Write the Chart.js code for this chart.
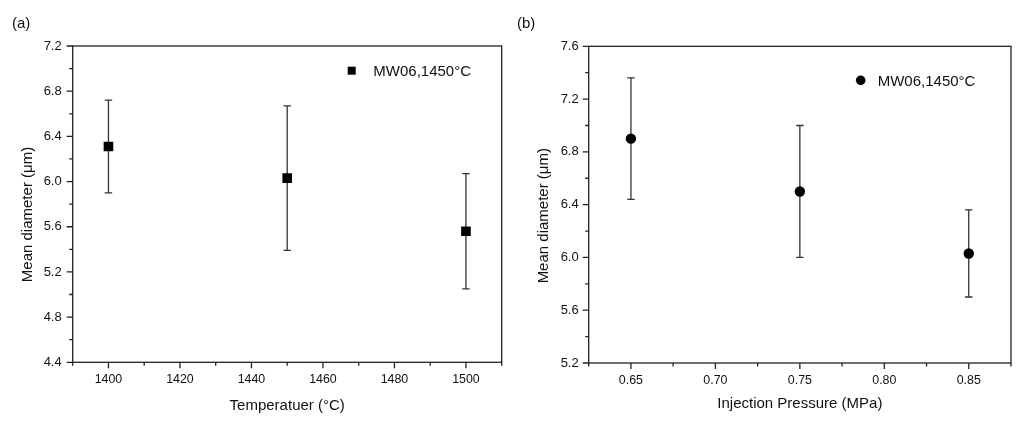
<!DOCTYPE html>
<html>
<head>
<meta charset="utf-8">
<script src="https://cdn.jsdelivr.net/npm/chart.js@4.4.1/dist/chart.umd.min.js"></script>
<style>
  body { margin: 0; background: #fff; }
  .panel { position: absolute; top: 0; width: 512px; height: 425px; }
  .tag { position: absolute; top: 14px; font: 15px 'Liberation Sans', Arial, sans-serif; color: #111; }
</style>
</head>
<body>
<div class="panel" style="left:0"><canvas id="chart_temp"></canvas></div>
<div class="panel" style="left:512px"><canvas id="chart_press"></canvas></div>
<div class="tag" style="left:12px">(a)</div>
<div class="tag" style="left:517px">(b)</div>
<script>
// panel (a): temperature
const tempX = [1400, 1450, 1500];
const tempMean = [6.31, 6.03, 5.56];
const tempUpper = [6.72, 6.67, 6.07];
const tempLower = [5.90, 5.39, 5.05];

// panel (b): injection pressure
const pressX = [0.65, 0.75, 0.85];
const pressMean = [6.90, 6.50, 6.03];
const pressUpper = [7.36, 7.00, 6.36];
const pressLower = [6.44, 6.00, 5.70];

const seriesLabel = 'MW06,1450°C';
const yTitle = 'Mean diameter (μm)';

const ink = '#111';
const family = "'Liberation Sans', Arial, sans-serif";
Chart.defaults.font.family = family;
Chart.defaults.color = ink;

// error bars, box frame, long/short ticks, inside legend, y title
const originStyle = {
    id: 'originStyle',
    beforeDatasetsDraw(chart, args, o) {
        const ctx = chart.ctx, xs = chart.scales.x, ys = chart.scales.y;
        ctx.save();
        ctx.strokeStyle = '#333';
        ctx.lineWidth = 1.3;
        o.xs.forEach((xv, i) => {
            const px = xs.getPixelForValue(xv);
            const top = ys.getPixelForValue(o.upper[i]);
            const bot = ys.getPixelForValue(o.lower[i]);
            ctx.beginPath();
            ctx.moveTo(px, top); ctx.lineTo(px, bot);
            ctx.moveTo(px - 3.7, top); ctx.lineTo(px + 3.7, top);
            ctx.moveTo(px - 3.7, bot); ctx.lineTo(px + 3.7, bot);
            ctx.stroke();
        });
        ctx.restore();
    },
    afterDraw(chart, args, o) {
        const ctx = chart.ctx, a = chart.chartArea;
        const xs = chart.scales.x, ys = chart.scales.y;
        ctx.save();
        ctx.strokeStyle = '#222';
        ctx.lineWidth = 1.3;
        ctx.strokeRect(a.left, a.top, a.right - a.left, a.bottom - a.top);
        ctx.beginPath();
        xs.ticks.forEach(t => {
            const px = xs.getPixelForValue(t.value);
            ctx.moveTo(px, a.bottom);
            ctx.lineTo(px, a.bottom + (t.label !== '' ? 6 : 3.5));
        });
        ys.ticks.forEach(t => {
            const py = ys.getPixelForValue(t.value);
            ctx.moveTo(a.left, py);
            ctx.lineTo(a.left - (t.label !== '' ? 6 : 3.5), py);
        });
        ctx.stroke();

        // legend
        ctx.fillStyle = '#000';
        if (o.marker === 'rect') {
            ctx.fillRect(o.lx - 4, o.ly - 4, 8, 8);
        } else {
            ctx.beginPath();
            ctx.arc(o.lx, o.ly, 4.8, 0, Math.PI * 2);
            ctx.fill();
        }
        ctx.fillStyle = ink;
        ctx.font = '15px ' + family;
        ctx.textAlign = 'left';
        ctx.textBaseline = 'alphabetic';
        ctx.fillText(seriesLabel, o.tx, o.ly + 5.5);

        // y axis title
        ctx.translate(o.yt[0], o.yt[1]);
        ctx.rotate(-Math.PI / 2);
        ctx.textAlign = 'center';
        ctx.textBaseline = 'middle';
        ctx.fillText(yTitle, 0, 0);
        ctx.restore();
    }
};

function majorEvery(step) {
    return (v) => {
        const n = Math.round(v * 1000);
        return n % Math.round(step * 1000) === 0 ? v : '';
    };
}

function makeChart(id, cfg) {
    return new Chart(document.getElementById(id), {
        type: 'scatter',
        data: {
            datasets: [{
                label: seriesLabel,
                data: cfg.xs.map((x, i) => ({ x: x, y: cfg.mean[i] })),
                pointStyle: cfg.marker === 'rect' ? 'rect' : 'circle',
                pointRadius: cfg.marker === 'rect' ? 6.8 : 5.2,
                backgroundColor: '#000',
                borderColor: '#000',
                borderWidth: 0,
            }]
        },
        options: {
            responsive: true,
            maintainAspectRatio: false,
            animation: false,
            layout: { padding: cfg.padding },
            plugins: {
                legend: { display: false },
                tooltip: { enabled: false },
                originStyle: {
                    xs: cfg.xs, upper: cfg.upper, lower: cfg.lower,
                    marker: cfg.marker, lx: cfg.lx, ly: cfg.ly, tx: cfg.tx, yt: cfg.yt,
                },
            },
            scales: {
                x: {
                    type: 'linear',
                    min: cfg.xMin, max: cfg.xMax,
                    grid: { display: false, drawTicks: false },
                    border: { display: false },
                    afterFit: (s) => { s.height = cfg.xAxisH; },
                    ticks: {
                        stepSize: cfg.xStep,
                        padding: 10,
                        maxRotation: 0,
                        autoSkip: false,
                        font: { size: 12.4 },
                        callback: (v) => {
                            const lab = majorEvery(cfg.xMajor)(v);
                            return lab === '' ? '' : Number(lab).toFixed(cfg.xDigits);
                        },
                    },
                    title: {
                        display: true,
                        text: cfg.xTitle,
                        font: { size: 15 },
                        padding: { top: 0, bottom: cfg.xTitlePad },
                    },
                },
                y: {
                    min: cfg.yMin, max: cfg.yMax,
                    grid: { display: false, drawTicks: false },
                    border: { display: false },
                    afterFit: (s) => { s.width = cfg.yAxisW; },
                    ticks: {
                        stepSize: 0.2,
                        padding: cfg.yPad,
                        autoSkip: false,
                        font: { size: 13 },
                        callback: (v) => {
                            const lab = majorEvery(0.4)(v);
                            return lab === '' ? '' : Number(lab).toFixed(1);
                        },
                    },
                },
            },
        },
        plugins: [originStyle],
    });
}

makeChart('chart_temp', {
    xs: tempX, mean: tempMean, upper: tempUpper, lower: tempLower,
    marker: 'rect',
    xMin: 1390, xMax: 1510, xStep: 10, xMajor: 20, xDigits: 0,
    yMin: 4.4, yMax: 7.2,
    xTitle: 'Temperatuer (°C)',
    padding: { left: 0, right: 10.3, top: 46, bottom: 0 },
    xAxisH: 62.7, yAxisW: 72.7, yPad: 11, xTitlePad: 10.5,
    lx: 351.7, ly: 70.7, tx: 373.3, yt: [28, 214.5],
});

makeChart('chart_press', {
    xs: pressX, mean: pressMean, upper: pressUpper, lower: pressLower,
    marker: 'circle',
    xMin: 0.625, xMax: 0.875, xStep: 0.025, xMajor: 0.05, xDigits: 2,
    yMin: 5.2, yMax: 7.6,
    xTitle: 'Injection Pressure (MPa)',
    padding: { left: 0, right: 13, top: 46.3, bottom: 0 },
    xAxisH: 62, yAxisW: 76.7, yPad: 10, xTitlePad: 11.7,
    lx: 348.7, ly: 80.3, tx: 365.7, yt: [32.3, 215.7],
});
</script>
</body>
</html>
